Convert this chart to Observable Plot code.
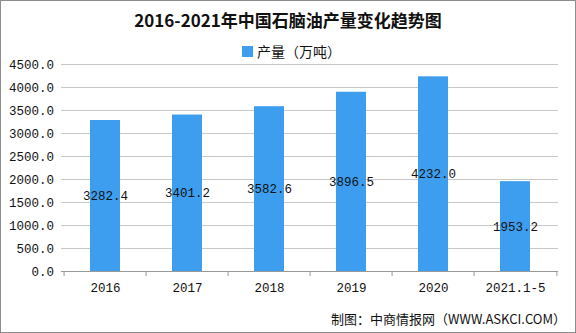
<!DOCTYPE html>
<html><head><meta charset="utf-8">
<script src="https://cdn.jsdelivr.net/npm/d3@7"></script>
<script src="https://cdn.jsdelivr.net/npm/@observablehq/plot@0.6"></script>
<style>
html,body{margin:0;padding:0;background:#fff;}
#wrap{position:relative;width:574px;height:331px;border:1px solid #8c8c8c;overflow:hidden;background:#fff;}
#title{position:absolute;left:0;top:6px;width:574px;text-align:center;font:bold 17px "Noto Sans CJK SC",sans-serif;color:#111;}
#legend{position:absolute;left:241px;top:40px;font:14px "Noto Sans CJK SC",sans-serif;color:#111;display:flex;align-items:center;}
#legend span.sw{display:inline-block;width:11px;height:11px;background:#3d9ef0;margin-right:4px;}
#caption{position:absolute;right:9px;top:308px;font:13px "Noto Sans CJK SC",sans-serif;color:#111;}
#chart{position:absolute;left:0;top:0;}
</style></head>
<body>
<div id="wrap">
  <div id="chart"></div>
  <div id="title">2016-2021年中国石脑油产量变化趋势图</div>
  <div id="legend"><span class="sw"></span>产量（万吨）</div>
  <div id="caption">制图：中商情报网（WWW.ASKCI.COM）</div>
</div>
<script>
const categories = ["2016","2017","2018","2019","2020","2021.1-5"];
const values = [3282.4, 3401.2, 3582.6, 3896.5, 4232.0, 1953.2];
const yTicks = [0,500,1000,1500,2000,2500,3000,3500,4000,4500];

const data = categories.map((c,i)=>({cat:c, v:values[i]}));
const W = 574, H = 333;
const mL = 60, mR = 17, mT = 63, mB = 63;
const band = (W - mL - mR) / categories.length;
const mono = "'Liberation Mono', monospace";

const plot = Plot.plot({
  width: W, height: H,
  marginLeft: mL, marginRight: mR, marginTop: mT, marginBottom: mB,
  style: {fontFamily: mono, fontSize: "12px", color: "#111", background: "transparent"},
  x: {domain: categories, paddingInner: 0.64, paddingOuter: 0.32, axis: null},
  y: {domain: [0, 4500], axis: null},
  marks: [
    Plot.ruleY(yTicks.filter(d=>d>0), {stroke: "#c8c8c8", strokeWidth: 1}),
    Plot.barY(data, {x: "cat", y: "v", fill: "#3d9ef0"}),
    Plot.ruleY([0], {stroke: "#999", strokeWidth: 1}),
    Plot.ruleX(categories, {x: d=>d, dx: -band/2, y1: 0, y2: 0, insetBottom: -5, stroke: "#999"}),
    Plot.ruleX([categories[categories.length-1]], {x: d=>d, dx: band/2, y1: 0, y2: 0, insetBottom: -5, stroke: "#999"}),
    Plot.text(yTicks, {x: () => categories[0], y: d=>d, text: d=>d.toFixed(1), textAnchor: "end", dx: -band/2 - 10, fill: "#111", fontSize: 12.5}),
    Plot.text(categories, {x: d=>d, y: 0, text: d=>d, dy: 16, fill: "#111", fontSize: 12.5}),
    Plot.text(data, {x: "cat", y: d=>d.v/2, text: d=>d.v.toFixed(1), fill: "#111", fontSize: 12.5})
  ]
});
document.getElementById("chart").appendChild(plot);
</script>
</body></html>
